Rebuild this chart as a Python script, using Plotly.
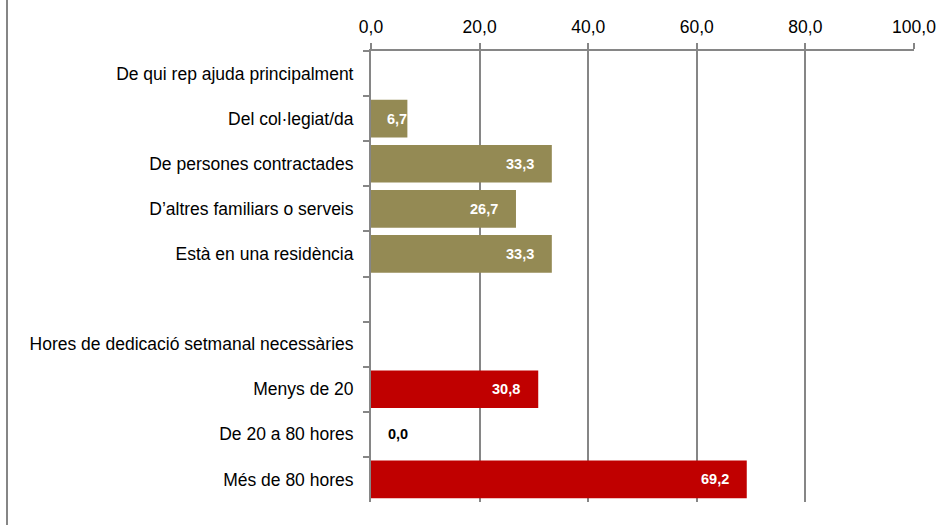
import plotly.graph_objects as go

categories = [
    "De qui rep ajuda principalment",
    "Del col·legiat/da",
    "De persones contractades",
    "D’altres familiars o serveis",
    "Està en una residència",
    " ",
    "Hores de dedicació setmanal necessàries",
    "Menys de 20",
    "De 20 a 80 hores",
    "Més de 80 hores",
]
values_help = [None, 6.7, 33.3, 26.7, 33.3, None, None, None, None, None]
values_hours = [None, None, None, None, None, None, None, 30.8, 0.0, 69.2]
x_ticks = [0, 20, 40, 60, 80, 100]

FONT = "Liberation Sans, Arial, sans-serif"
W, H = 941, 525
ML, MR, MT, MB = 371, 27, 51, 23

fig = go.Figure()
fig.add_trace(go.Bar(y=categories, x=values_help, orientation="h",
                     marker=dict(color="#948A54", line=dict(width=0)),
                     hoverinfo="x+y", showlegend=False))
fig.add_trace(go.Bar(y=categories, x=values_hours, orientation="h",
                     marker=dict(color="#C00000", line=dict(width=0)),
                     hoverinfo="x+y", showlegend=False))

LABEL_SIZE = 14.5
annotations = []
for vals in (values_help, values_hours):
    for cat, v in zip(categories, vals):
        if v is None:
            continue
        txt = "<b>" + f"{v:.1f}".replace(".", ",") + "</b>"
        if v == 0:
            annotations.append(dict(x=0, y=cat, xref="x", yref="y", text=txt, showarrow=False,
                                    xanchor="left", xshift=15,
                                    font=dict(family=FONT, size=LABEL_SIZE, color="#000000")))
        elif v < 10:
            annotations.append(dict(x=0, y=cat, xref="x", yref="y", text=txt, showarrow=False,
                                    xanchor="left", xshift=14,
                                    font=dict(family=FONT, size=LABEL_SIZE, color="#FFFFFF")))
        else:
            annotations.append(dict(x=v, y=cat, xref="x", yref="y", text=txt, showarrow=False,
                                    xanchor="right", xshift=-16,
                                    font=dict(family=FONT, size=LABEL_SIZE, color="#FFFFFF")))

plot_w = W - ML - MR
fig.update_layout(
    width=W, height=H,
    margin=dict(l=ML, r=MR, t=MT, b=MB, autoexpand=False),
    paper_bgcolor="white", plot_bgcolor="white",
    barmode="overlay", bargap=0.165,
    separators=",.",
    font=dict(family=FONT, size=17.5, color="#000000"),
    annotations=annotations,
    shapes=[dict(type="line", xref="paper", yref="paper",
                 x0=(7 - ML) / plot_w, x1=(7 - ML) / plot_w, y0=-1, y1=2,
                 line=dict(color="#868686", width=2))],
)
fig.update_xaxes(
    side="top", range=[0, 100], tickvals=x_ticks, tickformat=".1f",
    showgrid=True, gridcolor="#868686", gridwidth=2,
    showline=True, linecolor="#868686", linewidth=2,
    ticks="outside", ticklen=6, tickwidth=2, tickcolor="#868686",
    zeroline=False, tickfont=dict(family=FONT, size=17.5, color="#000000"),
    ticklabelstandoff=3, automargin=False,
)
fig.update_yaxes(
    autorange="reversed", type="category", categoryorder="array", categoryarray=categories,
    showline=True, linecolor="#868686", linewidth=2,
    ticks="outside", ticklen=6, tickwidth=2, tickcolor="#868686", tickson="boundaries",
    showgrid=False, zeroline=False,
    tickfont=dict(family=FONT, size=17.5, color="#000000"),
    ticklabelstandoff=12, automargin=False,
)

fig.write_html("out.html", config={"displayModeBar": False},
               post_script="document.body.style.margin='0';document.body.style.overflow='hidden';")
